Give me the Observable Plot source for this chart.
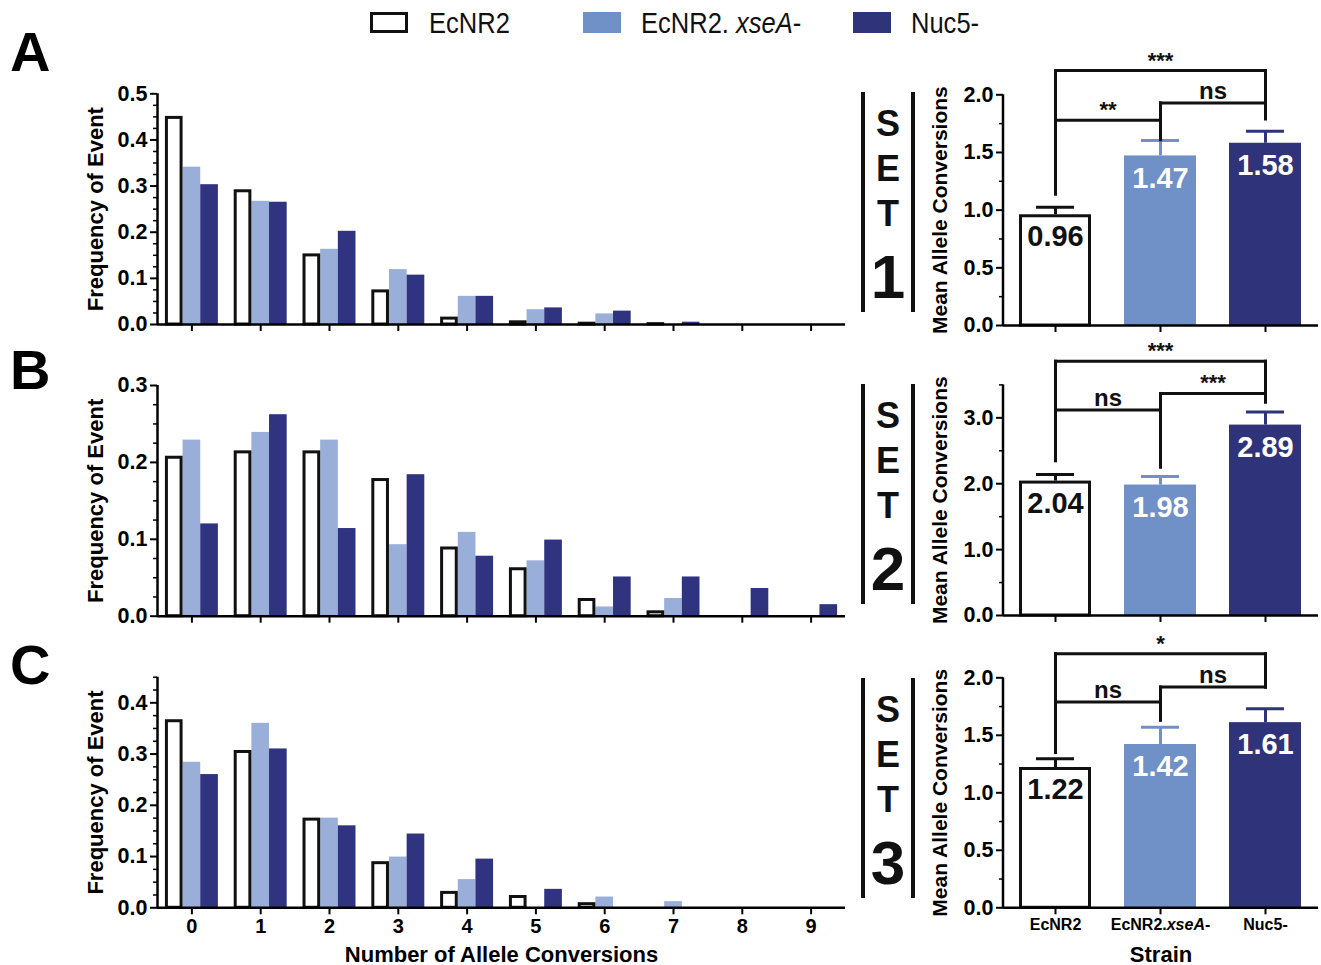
<!DOCTYPE html>
<html>
<head>
<meta charset="utf-8">
<script src="https://cdn.jsdelivr.net/npm/d3@7"></script>
<script src="https://cdn.jsdelivr.net/npm/@observablehq/plot@0.6"></script>
<style>
  html, body { margin: 0; padding: 0; background: #fff; }
  #root { position: relative; width: 1321px; height: 965px; overflow: hidden; background: #fff;
          font-family: "Liberation Sans", Arial, sans-serif; }
  .plotbox svg text { font-family: "Liberation Sans", Arial, sans-serif !important; font-weight: bold; }
  .plotbox g[aria-label="y-axis tick label"] text { font-size: 21.5px !important; }
  .hist g[aria-label="x-axis tick label"] text { font-size: 20px !important; }
  .hist g[aria-label="x-axis label"] text { font-size: 22px !important; }
  .hist g[aria-label="y-axis label"] text { font-size: 22px !important; }
  .means g[aria-label="y-axis label"] text { font-size: 21px !important; }
  .means g[aria-label="x-axis tick label"] text { font-size: 16px !important; }
  .means g[aria-label="x-axis label"] text { font-size: 22px !important; }
  .letter { font-weight: bold; font-size: 56px; line-height: 1; }
  .setbox { border-left: 4px solid #111; border-right: 4px solid #111; width: 46px; }
  .setbox div { position: absolute; left: 0; width: 46px; text-align: center; font-weight: bold; line-height: 1; color: #111; }
  .legend { font-size: 29px; line-height: 1; color: #111; transform: scaleX(0.88); transform-origin: 0 0; white-space: nowrap; }
  .sw { width: 38px; height: 21px; box-sizing: border-box; }
</style>
</head>
<body>
<div id="root"></div>
<script>
// ---------- data ----------
const cats = [0, 1, 2, 3, 4, 5, 6, 7, 8, 9];
const strains = ["EcNR2", "EcNR2.xseA-", "Nuc5-"];

// Set 1 (A) frequency of events
const histA_EcNR2 = [0.451, 0.292, 0.153, 0.075, 0.016, 0.008, 0.005, 0.004, 0, 0];
const histA_xseA  = [0.341, 0.267, 0.163, 0.119, 0.061, 0.032, 0.023, 0, 0, 0];
const histA_Nuc5  = [0.303, 0.265, 0.202, 0.107, 0.061, 0.036, 0.029, 0.005, 0, 0];
// Set 2 (B)
const histB_EcNR2 = [0.208, 0.215, 0.215, 0.179, 0.090, 0.063, 0.023, 0.007, 0, 0];
const histB_xseA  = [0.229, 0.239, 0.229, 0.093, 0.109, 0.072, 0.012, 0.023, 0, 0];
const histB_Nuc5  = [0.120, 0.262, 0.114, 0.184, 0.078, 0.099, 0.051, 0.051, 0.036, 0.015];
// Set 3 (C)
const histC_EcNR2 = [0.367, 0.307, 0.175, 0.090, 0.032, 0.024, 0.010, 0, 0, 0];
const histC_xseA  = [0.284, 0.360, 0.175, 0.099, 0.055, 0, 0.021, 0.012, 0, 0];
const histC_Nuc5  = [0.260, 0.310, 0.160, 0.144, 0.095, 0.036, 0, 0, 0, 0];

// Mean allele conversions and error (SEM)
const meanA = [0.96, 1.47, 1.58];
const errA  = [0.066, 0.134, 0.105];
const meanB = [2.04, 1.98, 2.89];
const errB  = [0.10, 0.13, 0.20];
const meanC = [1.22, 1.42, 1.61];
const errC  = [0.076, 0.15, 0.12];

// Significance comparisons: [from, to, bracket level, leg bottom at from, leg bottom at to, label]
const sigA = [
  ["EcNR2", "EcNR2.xseA-", 1.78, 1.14, 1.61, "**"],
  ["EcNR2.xseA-", "Nuc5-", 1.93, 1.78, 1.79, "ns"],
  ["EcNR2", "Nuc5-", 2.21, 1.14, 1.93, "***"]
];
const sigB = [
  ["EcNR2", "EcNR2.xseA-", 3.12, 2.35, 2.25, "ns"],
  ["EcNR2.xseA-", "Nuc5-", 3.37, 3.12, 3.24, "***"],
  ["EcNR2", "Nuc5-", 3.86, 2.35, 3.24, "***"]
];
const sigC = [
  ["EcNR2", "EcNR2.xseA-", 1.79, 1.35, 1.63, "ns"],
  ["EcNR2.xseA-", "Nuc5-", 1.92, 1.79, 1.92, "ns"],
  ["EcNR2", "Nuc5-", 2.21, 1.35, 1.92, "*"]
];

// tick labels
const histTicksA = [0, 0.1, 0.2, 0.3, 0.4, 0.5];
const histTicksB = [0, 0.1, 0.2, 0.3];
const histTicksC = [0, 0.1, 0.2, 0.3, 0.4];
const meanTicksA = [0, 0.5, 1.0, 1.5, 2.0];
const meanTicksB = [0, 1.0, 2.0, 3.0];
const meanTicksC = [0, 0.5, 1.0, 1.5, 2.0];

// ---------- styles ----------
const histFill = ["#ffffff", "#99aed9", "#2f3380"];
const meanFill = ["#ffffff", "#7090c8", "#2f3379"];
const meanStroke = ["#111111", "#7090c8", "#2f3379"];
const labelFill = ["#111111", "#ffffff", "#ffffff"];

const root = document.getElementById("root");
function place(el, left, top) {
  el.style.position = "absolute"; el.style.left = left + "px"; el.style.top = top + "px";
  root.appendChild(el); return el;
}

function histRows(a, b, c) {
  const rows = [];
  [a, b, c].forEach((arr, k) => arr.forEach((v, i) => rows.push({cat: cats[i], k, strain: strains[k], value: v})));
  return rows;
}

const GROUP = 0.77, BW = GROUP / 3;

function hist({top, height, mt, mb, ymax, ticks, data, labels}) {
  const rows = data.filter(d => d.value > 0);
  const minor = d3.range(0, ymax + 1e-9, 0.025).filter(v => !ticks.some(t => Math.abs(t - v) < 1e-9));
  const x1 = d => d.cat - GROUP / 2 + d.k * BW;
  const x2 = d => d.cat - GROUP / 2 + (d.k + 1) * BW;
  const svg = Plot.plot({
    width: 860, height,
    marginLeft: 157, marginRight: 15, marginTop: mt, marginBottom: mb,
    x: {domain: [-0.5, 9.5]},
    y: {domain: [0, ymax]},
    color: {type: "identity"},
    style: {background: "transparent", overflow: "visible"},
    marks: [
      Plot.rect(rows.filter(d => d.k > 0), {x1, x2, y1: d => 0, y2: "value", fill: d => histFill[d.k]}),
      Plot.rect(rows.filter(d => d.k === 0), {x1, x2, y1: d => 0, y2: "value", fill: "#fff", stroke: "#111",
        strokeWidth: 3, insetLeft: 1.5, insetRight: 1.5, insetTop: 1.5}),
      Plot.axisY({ticks, tickSize: 7, tickPadding: 3, strokeWidth: 2, tickFormat: d => d.toFixed(1),
        label: "Frequency of Event", labelAnchor: "center", labelOffset: 70, labelArrow: "none"}),
      Plot.axisY({ticks: minor, tickSize: 4, strokeWidth: 1.5, tickFormat: () => "", label: null}),
      Plot.axisX({ticks: cats, tickSize: 7, strokeWidth: 2, tickPadding: 4,
        tickFormat: labels ? d => String(d) : () => "",
        label: labels ? "Number of Allele Conversions" : null, labelAnchor: "center", labelArrow: "none",
        labelOffset: mb - 4}),
      Plot.ruleX([-0.5], {strokeWidth: 2.5}),
      Plot.ruleY([0], {strokeWidth: 2.5})
    ]
  });
  const div = document.createElement("div");
  div.className = "plotbox hist";
  div.appendChild(svg);
  place(div, 0, top);
}

function means({top, height, mt, mb, ymax, ticks, minorStep, mean, err, sig, labels}) {
  const rows = strains.map((s, k) => ({strain: s, k, mean: mean[k], err: err[k]}));
  const minor = d3.range(0, ymax + 1e-9, minorStep).filter(v => !ticks.some(t => Math.abs(t - v) < 1e-9));
  const segs = [];
  sig.forEach(([a, b, y, la, lb]) => {
    segs.push({x1: a, x2: b, y1: y, y2: y});
    segs.push({x1: a, x2: a, y1: la, y2: y});
    segs.push({x1: b, x2: b, y1: lb, y2: y});
  });
  const sigRows = sig.map(([a, b, y, la, lb, label]) => ({a, b, y, label,
    span: strains.indexOf(b) - strains.indexOf(a)}));
  const nsRows = sigRows.filter(d => d.label === "ns"), starRows = sigRows.filter(d => d.label !== "ns");
  const W = 401, ML = 83, MR = 3;
  const step = (W - ML - MR) / strains.length;
  const svg = Plot.plot({
    width: W, height,
    marginLeft: ML, marginRight: MR, marginTop: mt, marginBottom: mb,
    x: {domain: strains, paddingInner: 0.31, paddingOuter: 0.155},
    y: {domain: [0, ymax]},
    color: {type: "identity"},
    style: {background: "transparent", overflow: "visible"},
    marks: [
      Plot.ruleX(rows, {x: "strain", y1: "mean", y2: d => d.mean + d.err, stroke: d => meanStroke[d.k], strokeWidth: 3}),
      Plot.tickY(rows, {x: "strain", y: d => d.mean + d.err, stroke: d => meanStroke[d.k], strokeWidth: 3, inset: 17}),
      Plot.barY(rows.filter(d => d.k > 0), {x: "strain", y: "mean", fill: d => meanFill[d.k]}),
      Plot.barY(rows.filter(d => d.k === 0), {x: "strain", y: "mean", fill: "#fff", stroke: "#111", strokeWidth: 3,
        insetLeft: 1.5, insetRight: 1.5, insetTop: 1.5}),
      Plot.text(rows, {x: "strain", y: "mean", text: d => d.mean.toFixed(2), fill: d => labelFill[d.k],
        lineAnchor: "top", dy: 11, fontSize: 29, fontWeight: "bold"}),
      Plot.link(segs, {x1: "x1", x2: "x2", y1: "y1", y2: "y2", stroke: "#111", strokeWidth: 3, strokeLinecap: "square"}),
      Plot.text(nsRows, {x: "a", y: "y", text: "label",
        lineAnchor: "bottom", dy: -4, fontSize: 24, fontWeight: "bold", fill: "#111"}),
      Plot.text(starRows, {x: "a", y: "y", text: "label",
        lineAnchor: "bottom", dy: -3, fontSize: 22, fontWeight: "bold", fill: "#111"}),
      Plot.axisY({ticks, tickSize: 7, tickPadding: 3, strokeWidth: 2, tickFormat: d => d.toFixed(1),
        label: "Mean Allele Conversions", labelAnchor: "center", labelOffset: 71, labelArrow: "none"}),
      Plot.axisY({ticks: minor, tickSize: 4, strokeWidth: 1.5, tickFormat: () => "", label: null}),
      Plot.axisX({tickSize: 7, strokeWidth: 2, tickPadding: 4,
        tickFormat: labels ? d => d : () => "",
        label: labels ? "Strain" : null, labelAnchor: "center", labelArrow: "none", labelOffset: mb - 4}),
      Plot.ruleX([strains[0]], {strokeWidth: 2.5, dx: -step / 2}),
      Plot.ruleY([0], {strokeWidth: 2.5})
    ]
  });
  const div = document.createElement("div");
  div.className = "plotbox means";
  div.appendChild(svg);
  place(div, 920, top);
  // move significance labels to the middle of each bracket
  const textGroups = svg.querySelectorAll('g[aria-label="text"]');
  [[textGroups[1], nsRows], [textGroups[2], starRows]].forEach(([g, rs]) => {
    if (!g) return;
    g.querySelectorAll("text").forEach((t, i) => {
      const dx = rs[i].span * step / 2;
      t.setAttribute("transform", ((t.getAttribute("transform") || "") + ` translate(${dx},0)`).trim());
    });
  });
  // italic xseA
  svg.querySelectorAll('g[aria-label="x-axis tick label"] text').forEach(t => {
    if (t.textContent === "EcNR2.xseA-") {
      t.textContent = "";
      const ns = "http://www.w3.org/2000/svg";
      const a = document.createElementNS(ns, "tspan"); a.textContent = "EcNR2.";
      const b = document.createElementNS(ns, "tspan"); b.textContent = "xseA"; b.setAttribute("font-style", "italic");
      const c = document.createElementNS(ns, "tspan"); c.textContent = "-";
      t.append(a, b, c);
    }
  });
}

hist({top: 80, height: 260, mt: 13.3, mb: 16, ymax: 0.5, ticks: histTicksA,
  data: histRows(histA_EcNR2, histA_xseA, histA_Nuc5), labels: false});
hist({top: 370, height: 260, mt: 15, mb: 14.3, ymax: 0.3, ticks: histTicksB,
  data: histRows(histB_EcNR2, histB_xseA, histB_Nuc5), labels: false});
hist({top: 660, height: 305, mt: 16.7, mb: 57.7, ymax: 0.45, ticks: histTicksC,
  data: histRows(histC_EcNR2, histC_xseA, histC_Nuc5), labels: true});

means({top: 40, height: 300, mt: 54.3, mb: 15, ymax: 2.0, ticks: meanTicksA, minorStep: 0.25,
  mean: meanA, err: errA, sig: sigA, labels: false});
means({top: 330, height: 300, mt: 54.4, mb: 15, ymax: 3.5, ticks: meanTicksB, minorStep: 0.5,
  mean: meanB, err: errB, sig: sigB, labels: false});
means({top: 620, height: 345, mt: 57.3, mb: 57.7, ymax: 2.0, ticks: meanTicksC, minorStep: 0.25,
  mean: meanC, err: errC, sig: sigC, labels: true});

// ---------- panel letters ----------
[["A", 10, 24], ["B", 10, 342], ["C", 10, 637]].forEach(([t, x, y]) => {
  const d = document.createElement("div"); d.className = "letter"; d.textContent = t; place(d, x, y);
});

// ---------- SET labels ----------
[["1", 92], ["2", 384], ["3", 678]].forEach(([n, y]) => {
  const box = document.createElement("div");
  box.className = "setbox"; box.style.height = "220px";
  const parts = [["S", 14, 36], ["E", 59, 36], ["T", 104, 36], [n, 154, 62]];
  parts.forEach(([t, ty, fs]) => {
    const e = document.createElement("div"); e.textContent = t; e.style.top = ty + "px"; e.style.fontSize = fs + "px";
    box.appendChild(e);
  });
  place(box, 861, y);
});

// ---------- legend ----------
const legendItems = [
  {html: "EcNR2", fill: "#fff", border: "3.5px solid #111", sx: 370, tx: 429},
  {html: "EcNR2. <i>xseA</i>-", fill: "#7090c8", border: "none", sx: 583, tx: 641},
  {html: "Nuc5-", fill: "#2f3379", border: "none", sx: 853, tx: 911}
];
legendItems.forEach(it => {
  const sw = document.createElement("div"); sw.className = "sw";
  sw.style.background = it.fill; sw.style.border = it.border;
  place(sw, it.sx, 12);
  const tx = document.createElement("div"); tx.className = "legend"; tx.innerHTML = it.html;
  place(tx, it.tx, 9);
});
</script>
</body>
</html>
